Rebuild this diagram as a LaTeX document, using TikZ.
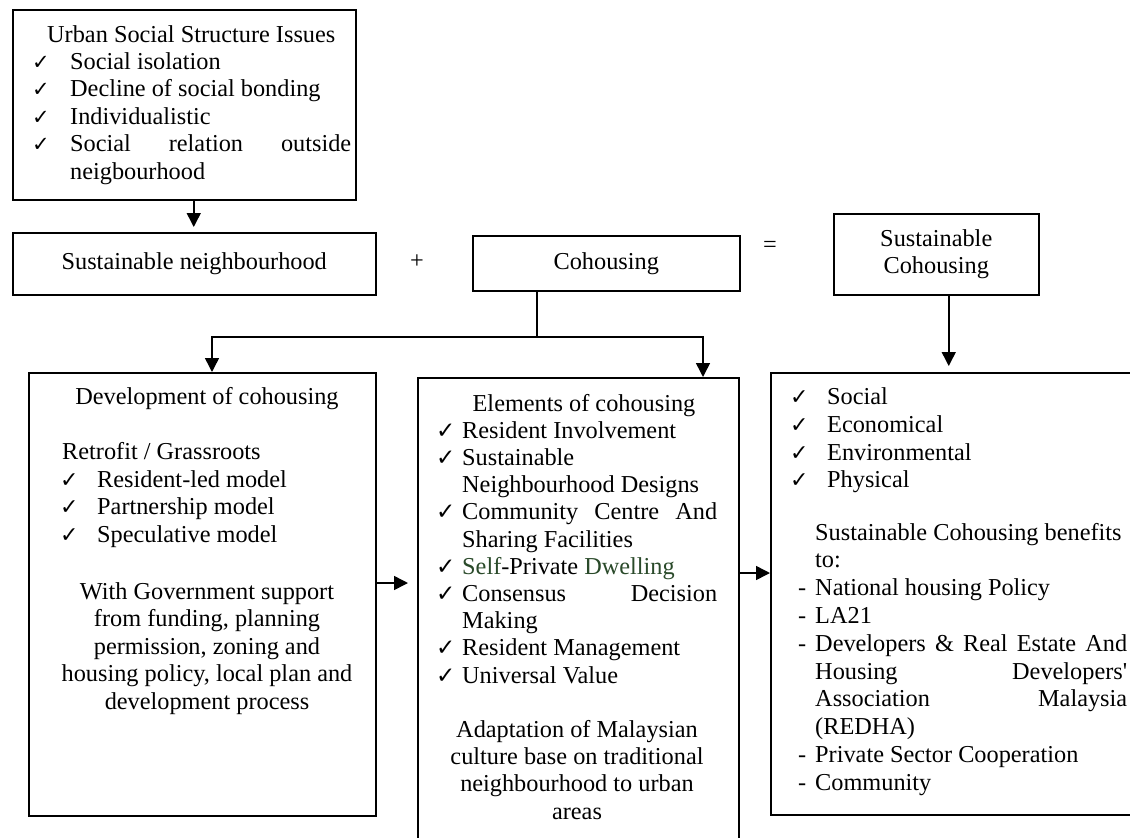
\documentclass[tikz,border=0pt]{standalone}
\usepackage{fontspec}
\setmainfont{Liberation Serif}
\newfontfamily\ckfont{DejaVu Sans}
\usetikzlibrary{arrows.meta}
\definecolor{dg}{HTML}{2A4A2A}
\begin{document}
\begin{tikzpicture}[x=1pt,y=-1pt,
  every node/.style={font=\fontsize{24.3}{27.6}\selectfont},
  box/.style={draw, line width=1.5pt, inner sep=0pt, anchor=north west},
  arr/.style={line width=1.5pt, -{Triangle[width=14pt,length=14pt]}},
  conn/.style={line width=1.5pt},
  tx/.style={anchor=base west, inner sep=0pt},
  tc/.style={anchor=base, inner sep=0pt},
  ck/.style={anchor=base west, inner sep=0pt, font=\ckfont\fontsize{#1}{#1}\selectfont},
  ck/.default=22]
\useasboundingbox (0,0) rectangle (1130,838);
\clip (0,0) rectangle (1130,838);
\fill[white] (0,0) rectangle (1130,838);

% ---------- boxes ----------
\node[box, minimum width=343pt, minimum height=190pt] (b1) at (12,9) {};
\node[box, minimum width=363pt, minimum height=62pt] (sn) at (12,232) {Sustainable neighbourhood};
\node[box, minimum width=267pt, minimum height=55pt] (co) at (472,235) {Cohousing};
\node[box, minimum width=205pt, minimum height=81pt, align=center] (sc) at (833,213) {Sustainable\\Cohousing};
\node[box, minimum width=347pt, minimum height=443pt] (lb) at (28,372) {};
\node[box, minimum width=321pt, minimum height=480pt] (mb) at (417,377) {};
\node[box, minimum width=380pt, minimum height=442pt] (rb) at (770,372) {};

\node[inner sep=0pt] (plus) at (417,262) {+};
\node[inner sep=0pt] (eq) at (770,247) {=};

% ---------- box 1 text ----------
\node[tx] (u0) at (47,42) {Urban Social Structure Issues};
\node[ck=21] (uc1) at (32,69.4) {✓};
\node[tx] (u1) at (70,69.4) {Social isolation};
\node[ck=21] (uc2) at (32,96.8) {✓};
\node[tx] (u2) at (70,96.8) {Decline of social bonding};
\node[ck=21] (uc3) at (32,124.2) {✓};
\node[tx] (u3) at (70,124.2) {Individualistic};
\node[ck=21] (uc4) at (32,151.6) {✓};
\node[tx] (u4) at (70,151.6) {\hbox to 281pt{Social\hfill relation\hfill outside}};
\node[tx] (u5) at (70,179) {neigbourhood};

% ---------- left box text ----------
\node[tc] (l0) at (207,404) {Development of cohousing};
\node[tx] (l1) at (62,459) {Retrofit / Grassroots};
\node[ck] (lc1) at (60,487) {✓};
\node[tx] (l2) at (97,487) {Resident-led model};
\node[ck] (lc2) at (60,514.5) {✓};
\node[tx] (l3) at (97,514.5) {Partnership model};
\node[ck] (lc3) at (60,542) {✓};
\node[tx] (l4) at (97,542) {Speculative model};
\node[tc] (l5) at (207,599) {With Government support};
\node[tc] (l6) at (207,626.5) {from funding, planning};
\node[tc] (l7) at (207,654) {permission, zoning and};
\node[tc] (l8) at (207,681.5) {housing policy, local plan and};
\node[tc] (l9) at (207,709) {development process};

% ---------- middle box text ----------
\node[tc] (m0) at (584,411) {Elements of cohousing};
\node[ck=23] (mc1) at (436,438.2) {✓};
\node[tx] (m1) at (462,438.2) {Resident Involvement};
\node[ck=23] (mc2) at (436,465.4) {✓};
\node[tx] (m2) at (462,465.4) {Sustainable};
\node[tx] (m3) at (462,492.6) {Neighbourhood Designs};
\node[ck=23] (mc4) at (436,519.8) {✓};
\node[tx] (m4) at (462,519.8) {\hbox to 255pt{Community\hfill Centre\hfill And}};
\node[tx] (m5) at (462,547) {Sharing Facilities};
\node[ck=23] (mc6) at (436,574.2) {✓};
\node[tx] (m6) at (462,574.2) {\textcolor{dg}{Self}-Private \textcolor{dg}{Dwelling}};
\node[ck=23] (mc7) at (436,601.4) {✓};
\node[tx] (m7) at (462,601.4) {\hbox to 255pt{Consensus\hfill Decision}};
\node[tx] (m8) at (462,628.6) {Making};
\node[ck=23] (mc9) at (436,655.8) {✓};
\node[tx] (m9) at (462,655.8) {Resident Management};
\node[ck=23] (mc10) at (436,683) {✓};
\node[tx] (m10) at (462,683) {Universal Value};
\node[tc] (m11) at (577,737.4) {Adaptation of Malaysian};
\node[tc] (m12) at (577,764.6) {culture base on traditional};
\node[tc] (m13) at (577,791.8) {neighbourhood to urban};
\node[tc] (m14) at (577,819) {areas};

% ---------- right box text ----------
\node[ck] (rc1) at (790,404) {✓};
\node[tx] (r1) at (827,404) {Social};
\node[ck] (rc2) at (790,432) {✓};
\node[tx] (r2) at (827,432) {Economical};
\node[ck] (rc3) at (790,460) {✓};
\node[tx] (r3) at (827,460) {Environmental};
\node[ck] (rc4) at (790,487) {✓};
\node[tx] (r4) at (827,487) {Physical};
\node[tx] (r5) at (815,540) {Sustainable Cohousing benefits};
\node[tx] (r6) at (815,567.8) {to:};
\node[tx] (rd7) at (798,595.6) {-};
\node[tx] (r7) at (815,595.6) {National housing Policy};
\node[tx] (rd8) at (798,623.4) {-};
\node[tx] (r8) at (815,623.4) {LA21};
\node[tx] (rd9) at (798,651.2) {-};
\node[tx] (r9) at (815,651.2) {\hbox to 312pt{Developers\hfill\&\hfill Real\hfill Estate\hfill And}};
\node[tx] (r10) at (815,679) {\hbox to 312pt{Housing\hfill Developers\textquotesingle}};
\node[tx] (r11) at (815,706.8) {\hbox to 312pt{Association\hfill Malaysia}};
\node[tx] (r12) at (815,734.6) {(REDHA)};
\node[tx] (rd13) at (798,762.4) {-};
\node[tx] (r13) at (815,762.4) {Private Sector Cooperation};
\node[tx] (rd14) at (798,790.2) {-};
\node[tx] (r14) at (815,790.2) {Community};

% ---------- connectors ----------
\draw[arr, shorten >=5pt] ([xshift=9.5pt]b1.south) -- ([xshift=9.5pt]b1.south |- sn.north);

\coordinate (j) at (537,337);
\coordinate (jl) at (212,337);
\coordinate (jr) at (703,337);
\draw[conn] (co.south -| j) -- (j);
\draw[arr] (j) -- (jl) -- (jl |- lb.north);
\draw[arr] (j) -- (jr) -- (jr |- mb.north);

\draw[arr, shorten >=6pt] ([xshift=12.5pt]sc.south) -- ([xshift=12.5pt]sc.south |- rb.north);

\coordinate (ya) at (0,583);
\coordinate (yb) at (0,573);
\draw[arr, shorten >=9pt] (lb.east |- ya) -- (mb.west |- ya);
\draw[arr] (mb.east |- yb) -- (rb.west |- yb);
\end{tikzpicture}
\end{document}
